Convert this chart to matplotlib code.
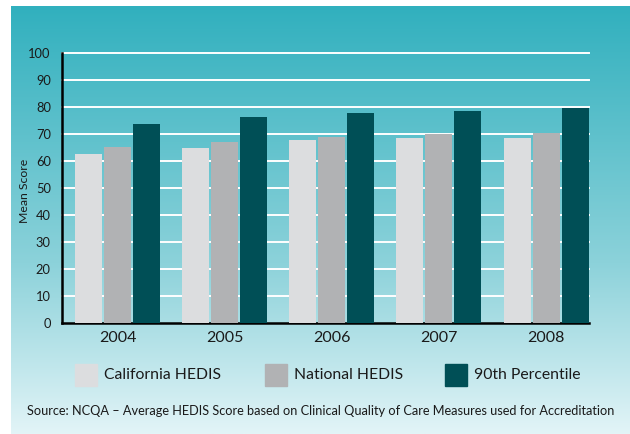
import numpy as np
import matplotlib.pyplot as plt
from matplotlib.patches import Rectangle

years = ["2004", "2005", "2006", "2007", "2008"]
california = [62.8, 65.0, 67.7, 68.4, 68.4]
national = [65.4, 66.9, 68.8, 69.9, 70.6]
percentile_90 = [73.6, 76.2, 77.7, 78.4, 79.6]
series_names = ["California HEDIS", "National HEDIS", "90th Percentile"]
colors = ["#dcdddf", "#b1b2b4", "#004f56"]
yticks = list(range(0, 101, 10))

plt.rcParams["font.family"] = ["Lato", "DejaVu Sans"]

W, H = 630, 434
fig = plt.figure(figsize=(W / 100, H / 100), dpi=100)
fig.patch.set_facecolor("white")


def fx(px):
    return px / W


def fy(py):
    return 1 - py / H


# teal-to-pale gradient panel behind everything
bg = fig.add_axes([fx(11), fy(434), fx(630) - fx(11), fy(6) - fy(434)], zorder=0)
top = np.array([49, 176, 190]) / 255
mid = np.array([140, 210, 218]) / 255
bot = np.array([226, 244, 247]) / 255
t = np.linspace(0, 1, 256)[:, None]
grad = np.where(t < 0.6, top + (mid - top) * (t / 0.6), mid + (bot - mid) * ((t - 0.6) / 0.4))
bg.imshow(grad[:, None, :], aspect="auto", extent=[0, 1, 1, 0])
bg.axis("off")

ax = fig.add_axes([fx(62), fy(322.7), fx(589) - fx(62), fy(53.3) - fy(322.7)], zorder=1)
ax.patch.set_alpha(0)

x = np.arange(len(years))
width = 0.252
step = 0.2705
for i, vals in enumerate([california, national, percentile_90]):
    ax.bar(x + (i - 1) * step, vals, width=width, color=colors[i], zorder=3)

for v in yticks[1:]:
    ax.axhline(v, color="white", lw=1.4, zorder=1, clip_on=False)

ax.set_xlim(-0.518, 4.4)
ax.set_ylim(0, 100)
ax.set_yticks(yticks)
ax.set_yticklabels([str(v) for v in yticks], fontsize=9.3, color="#1a1a1a")
ax.set_xticks(x)
ax.set_xticklabels(years, fontsize=11.5, color="#1a1a1a")
ax.tick_params(length=0)
ax.tick_params(axis="y", pad=8)
ax.tick_params(axis="x", pad=6)
for s in ["top", "right"]:
    ax.spines[s].set_visible(False)
for s in ["left", "bottom"]:
    ax.spines[s].set_linewidth(1.8)
    ax.spines[s].set_color("black")
ax.set_ylabel("Mean Score", fontsize=8.8, color="#1a1a1a")
ax.yaxis.set_label_coords(-0.06, 0.49)

# legend row
leg_x = [75, 265, 445]
for name, c, lx in zip(series_names, colors, leg_x):
    fig.patches.append(Rectangle((fx(lx), fy(386)), fx(22), 22 / H,
                                 transform=fig.transFigure, color=c, zorder=2))
    fig.text(fx(lx + 29), fy(375), name, fontsize=11.3, va="center", ha="left",
             color="#1a1a1a", zorder=3)

fig.text(fx(321), fy(411),
         "Source: NCQA \u2013 Average HEDIS Score based on Clinical Quality of Care Measures used for Accreditation",
         fontsize=9.2, ha="center", va="center", color="#1a1a1a", zorder=3)

fig.savefig("out.png", dpi=100)
